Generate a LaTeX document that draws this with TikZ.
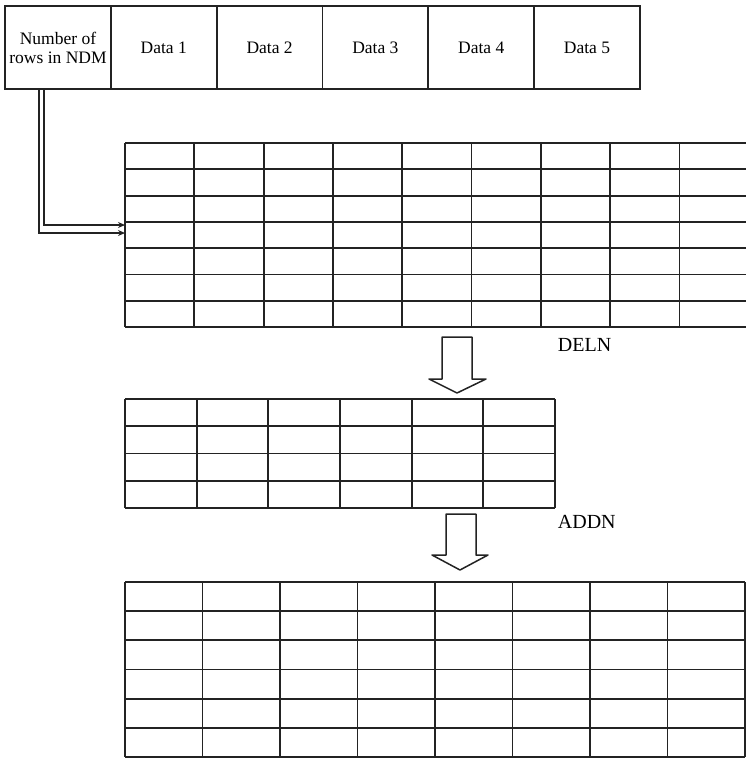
\documentclass[tikz,border=0pt]{standalone}
\usepackage{fontspec}
\setmainfont{Liberation Serif}
\usetikzlibrary{arrows.meta,calc}
\definecolor{GridInk}{RGB}{35,35,35}

\begin{document}
\begin{tikzpicture}[x=1pt, y=-1pt, line width=1.8pt, draw=GridInk, >={Stealth[length=7pt,width=6pt]},
    cell/.style={draw, minimum width=105.8pt, minimum height=83pt, inner sep=0pt, align=center,
      font=\fontsize{17.5}{19}\selectfont},
    lbl/.style={anchor=west, inner sep=0pt, font=\fontsize{20}{22}\selectfont},
    blockarrow/.style={draw, line width=1.5pt, line join=round, fill=white}]
  \useasboundingbox (0,0) rectangle (746,758);

  % record layout
  \node[cell] (nrows) at (58,47.5) {Number of\\rows in NDM};
  \foreach \i in {1,...,5}
    \node[cell] (data\i) at (58+105.8*\i,47.5) {Data \i};

  % NDM table (runs off the right side)
  \foreach \r in {0,...,7}
    \draw (125,143+26.3*\r) -- (746,143+26.3*\r);
  \foreach \c in {0,...,8}
    \draw (125+69.3*\c,143) -- (125+69.3*\c,327);
  \coordinate (ndm) at (125,229);

  % pointer from the row count
  \draw[line width=1.4pt, ->] ($(nrows.south)+(-14,0)$) |- ($(ndm)+(0,-4)$);
  \draw[line width=1.4pt, ->] ($(nrows.south)+(-19,0)$) |- ($(ndm)+(0,4)$);

  % after DELN
  \draw[blockarrow] (442,337) -- (472,337) -- (472,379) -- (486,379) -- (457,393)
    -- (429,379) -- (442,379) -- cycle;
  \node[lbl] (deln) at (557,345) {DELN};
  \foreach \r in {0,...,4}
    \draw (125,399+27.25*\r) -- (555,399+27.25*\r);
  \foreach \c in {0,...,6}
    \draw (125+71.67*\c,399) -- (125+71.67*\c,508);

  % after ADDN
  \draw[blockarrow] (446,514) -- (476,514) -- (476,555) -- (488,555) -- (460,570)
    -- (432,555) -- (446,555) -- cycle;
  \node[lbl] (addn) at (557,522) {ADDN};
  \foreach \r in {0,...,6}
    \draw (125,582+29.17*\r) -- (745,582+29.17*\r);
  \foreach \c in {0,...,8}
    \draw (125+77.5*\c,582) -- (125+77.5*\c,757);
\end{tikzpicture}
\end{document}
